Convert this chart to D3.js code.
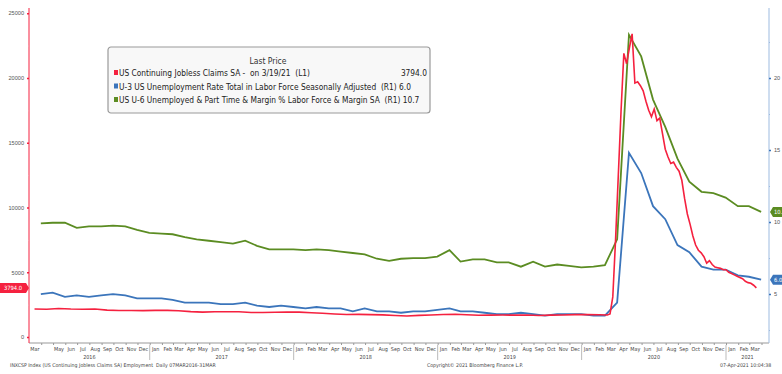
<!DOCTYPE html>
<html>
<head>
<meta charset="utf-8">
<script src="https://cdn.jsdelivr.net/npm/d3@7"></script>
<style>
  body { margin: 0; background: #fff; }
  svg { display: block; font-family: "Liberation Sans Narrow", "DejaVu Sans Condensed", sans-serif; }
  .pre { white-space: pre; }
</style>
</head>
<body>
<script>
// ---- data ----
// continuing jobless claims, thousands, monthly Mar 2016 - Feb 2020 (mid-month)
var claimsMonthly = [2170,2150,2200,2160,2150,2160,2080,2050,2050,2040,
  2060,2060,2030,1960,1920,1950,1950,1950,1900,1890,1910,1930,
  1920,1880,1840,1780,1740,1750,1730,1710,1660,1630,1670,1700,
  1740,1760,1720,1680,1690,1700,1690,1700,1660,1690,1700,1730,
  1730,1720];
// weekly (Fridays) from 6 Mar 2020 to 19 Mar 2021
var claimsWeekly = [1700,1780,3100,7500,12500,17500,21900,21100,22300,23400,
  19600,19700,19400,19000,18200,17500,17000,17600,16700,16900,
  15700,14500,13900,13400,13500,13100,12800,12100,10700,9500,
  8700,7800,7100,6700,6500,6200,5700,5900,5600,5400,
  5350,5300,5200,5200,5000,4900,4800,4700,4600,4500,
  4300,4200,4150,4000,3794];
// U-3 unemployment rate, monthly Mar 2016 - Mar 2021
var u3 = [5.0,5.1,4.8,4.9,4.8,4.9,5.0,4.9,4.7,4.7,
  4.7,4.6,4.4,4.4,4.4,4.3,4.3,4.4,4.2,4.1,4.2,4.1,
  4.0,4.1,4.0,4.0,3.8,4.0,3.8,3.8,3.7,3.8,3.8,3.9,
  4.0,3.8,3.8,3.7,3.6,3.6,3.7,3.6,3.5,3.6,3.6,3.6,
  3.5,3.5,4.4,14.8,13.4,11.1,10.2,8.4,7.9,6.9,6.7,6.7,
  6.3,6.2,6.0];
// U-6, monthly Mar 2016 - Mar 2021
var u6 = [9.9,9.95,9.95,9.6,9.7,9.7,9.75,9.7,9.45,9.25,
  9.2,9.15,8.95,8.8,8.7,8.6,8.5,8.7,8.35,8.1,8.1,8.1,
  8.05,8.1,8.05,7.95,7.85,7.75,7.45,7.3,7.45,7.5,7.5,7.6,
  8.05,7.25,7.4,7.4,7.2,7.2,6.9,7.25,6.9,7.05,6.95,6.85,
  6.9,7.0,8.8,23.0,21.5,18.5,16.6,14.4,12.8,12.1,12.0,11.7,
  11.1,11.1,10.7];

var leftTicks = [0, 5000, 10000, 15000, 20000, 25000];
var rightTicks = [5, 10, 15, 20];
var legendRows = [
  {name: "US Continuing Jobless Claims SA -  on 3/19/21  (L1)", last: "3794.0", color: "#f5213f"},
  {name: "U-3 US Unemployment Rate Total in Labor Force Seasonally Adjusted  (R1) 6.0", last: "", color: "#3b75bb"},
  {name: "US U-6 Unemployed & Part Time & Margin % Labor Force & Margin SA  (R1) 10.7", last: "", color: "#5b8c22"}
];

var w = 782, h = 374;
var pLeft = 29, pRight = 769, pTop = 8, pBottom = 343;
var red = "#f5213f", blue = "#3b75bb", green = "#5b8c22";

// dates
var monthEnds = d3.utcMonth.range(new Date(Date.UTC(2016, 2, 1)), new Date(Date.UTC(2021, 3, 1)))
  .map(function(d) { return d3.utcDay.offset(d3.utcMonth.offset(d, 1), -1); });
var claimsData = claimsMonthly.map(function(v, i) {
  return {date: new Date(Date.UTC(2016, 2 + i, 15)), v: v};
}).concat(claimsWeekly.map(function(v, i) {
  return {date: d3.utcDay.offset(new Date(Date.UTC(2020, 2, 6)), 7 * i), v: v};
}));
var u3Data = u3.map(function(v, i) { return {date: monthEnds[i], v: v}; });
var u6Data = u6.map(function(v, i) { return {date: monthEnds[i], v: v}; });

// scales
var xScale = d3.scaleUtc()
  .domain([new Date(Date.UTC(2016, 2, 1)), new Date(Date.UTC(2021, 3, 20))])
  .range([pLeft, pRight]);
var yLeft = d3.scaleLinear().domain([-460, 25400]).range([pBottom, pTop]);
var yRight = d3.scaleLinear().domain([1.6, 24.86]).range([pBottom, pTop]);

var svg = d3.select("body").append("svg")
  .attr("width", w)
  .attr("height", h);

// bottom axis line + month ticks
var monthStarts = d3.utcMonth.range(new Date(Date.UTC(2016, 3, 1)), new Date(Date.UTC(2021, 3, 2)));
var xAxis = d3.axisBottom(xScale)
  .tickValues(monthStarts)
  .tickSize(2)
  .tickFormat("");
var gx = svg.append("g")
  .attr("transform", "translate(0," + pBottom + ")")
  .call(xAxis);
gx.select(".domain").attr("stroke", "#999").attr("d", "M" + pLeft + ",0H" + pRight);
gx.selectAll(".tick line").attr("stroke", "#999");

// month labels centred on month
var monthMids = d3.utcMonth.range(new Date(Date.UTC(2016, 2, 1)), new Date(Date.UTC(2021, 3, 1)))
  .filter(function(d) { return !(d.getUTCFullYear() == 2016 && d.getUTCMonth() == 3); })
  .map(function(d) { return d3.utcDay.offset(d, 15); });
svg.append("g").selectAll("text")
  .data(monthMids)
  .enter().append("text")
  .attr("x", function(d) { return xScale(d); })
  .attr("y", 351)
  .attr("text-anchor", "middle")
  .attr("font-size", 5.4)
  .attr("fill", "#444")
  .text(d3.utcFormat("%b"));

// year labels + separators
var years = [2016, 2017, 2018, 2019, 2020, 2021];
svg.append("g").selectAll("text")
  .data(years)
  .enter().append("text")
  .attr("x", function(y) {
    var a = Math.max(xScale(new Date(Date.UTC(y, 0, 1))), pLeft);
    var b = Math.min(xScale(new Date(Date.UTC(y + 1, 0, 1))), pRight);
    return (a + b) / 2;
  })
  .attr("y", 359)
  .attr("text-anchor", "middle")
  .attr("font-size", 5.4)
  .attr("fill", "#444")
  .text(function(y) { return y; });
svg.append("g").selectAll("line")
  .data(years.slice(1))
  .enter().append("line")
  .attr("x1", function(y) { return xScale(new Date(Date.UTC(y, 0, 1))); })
  .attr("x2", function(y) { return xScale(new Date(Date.UTC(y, 0, 1))); })
  .attr("y1", pBottom + 2)
  .attr("y2", 360)
  .attr("stroke", "#bbb")
  .attr("stroke-width", 1);

// left axis (red)
var gl = svg.append("g")
  .attr("transform", "translate(" + pLeft + ",0)")
  .call(d3.axisLeft(yLeft).tickValues(leftTicks).tickSize(2).tickFormat(d3.format("d")));
gl.select(".domain").attr("stroke", red).attr("d", "M0," + pTop + "V" + pBottom);
gl.selectAll(".tick line").attr("stroke", red).attr("stroke-width", 1.5);
gl.selectAll(".tick text").attr("fill", "#555").attr("font-size", 5.6).attr("font-family", null);
svg.append("g")
  .attr("transform", "translate(" + pLeft + ",0)")
  .call(d3.axisLeft(yLeft).tickValues(d3.range(2500, 25000, 5000)).tickSize(1).tickFormat(""))
  .call(function(g) { g.select(".domain").remove(); g.selectAll("line").attr("stroke", "#f7a0ad"); });

// right axis (blue)
var gr = svg.append("g")
  .attr("transform", "translate(" + pRight + ",0)")
  .call(d3.axisRight(yRight).tickValues(rightTicks).tickSize(2).tickFormat(d3.format("d")));
gr.select(".domain").attr("stroke", "#9dbbe0").attr("d", "M0," + pTop + "V" + pBottom);
gr.selectAll(".tick line").attr("stroke", blue).attr("stroke-width", 1.5);
gr.selectAll(".tick text").attr("fill", "#555").attr("font-size", 5.6).attr("font-family", null);
svg.append("g")
  .attr("transform", "translate(" + pRight + ",0)")
  .call(d3.axisRight(yRight).tickValues([2.5, 7.5, 12.5, 17.5, 22.5]).tickSize(1).tickFormat(""))
  .call(function(g) { g.select(".domain").remove(); g.selectAll("line").attr("stroke", "#9dbbe0"); });

// lines
var lineL = d3.line().x(function(d) { return xScale(d.date); }).y(function(d) { return yLeft(d.v); });
var lineR = d3.line().x(function(d) { return xScale(d.date); }).y(function(d) { return yRight(d.v); });
svg.append("path").datum(u6Data)
  .attr("fill", "none").attr("stroke", green).attr("stroke-width", 1.8).attr("d", lineR);
svg.append("path").datum(u3Data)
  .attr("fill", "none").attr("stroke", blue).attr("stroke-width", 1.8).attr("d", lineR);
svg.append("path").datum(claimsData)
  .attr("fill", "none").attr("stroke", red).attr("stroke-width", 1.6).attr("d", lineL);

// last value badges
var lastClaims = claimsData[claimsData.length - 1].v;
var bl = svg.append("g").attr("transform", "translate(0," + yLeft(lastClaims) + ")");
bl.append("path").attr("d", "M0,-5H26L29,0L26,5H0Z").attr("fill", red);
bl.append("text").attr("x", 13).attr("y", 2.1).attr("text-anchor", "middle")
  .attr("font-size", 5.8).attr("fill", "#fff").text(d3.format(".1f")(lastClaims));

[[u6, green], [u3, blue]].forEach(function(s) {
  var v = s[0][s[0].length - 1];
  var g = svg.append("g").attr("transform", "translate(" + (pRight + 1) + "," + yRight(v) + ")");
  g.append("path").attr("d", "M0,0L3,-5H14V5H3Z").attr("fill", s[1]);
  g.append("text").attr("x", 4).attr("y", 2.1)
    .attr("font-size", 5.8).attr("fill", "#fff").text(d3.format(".1f")(v));
});

// legend
var lg = svg.append("g").attr("transform", "translate(108,47)");
lg.append("rect").attr("width", 322).attr("height", 66).attr("rx", 3)
  .attr("fill", "#f8f8f8").attr("stroke", "#9a9a9a").attr("stroke-width", 1.2);
lg.append("text").attr("x", 160).attr("y", 17).attr("text-anchor", "middle")
  .attr("font-size", 8.5).attr("fill", "#333").text("Last Price");
var rows = lg.selectAll(".row").data(legendRows).enter().append("g")
  .attr("transform", function(d, i) { return "translate(0," + (29 + i * 13.5) + ")"; });
rows.append("rect").attr("x", 6).attr("y", -6).attr("width", 4).attr("height", 5)
  .attr("fill", function(d) { return d.color; });
rows.append("text").attr("class", "pre").attr("x", 11).attr("y", 0)
  .attr("font-size", 8.3).attr("fill", "#222").text(function(d) { return d.name; });
rows.append("text").attr("x", 319).attr("y", 0).attr("text-anchor", "end")
  .attr("font-size", 8.3).attr("fill", "#222").text(function(d) { return d.last; });

// footer
svg.append("text").attr("class", "pre").attr("x", 10).attr("y", 367)
  .attr("font-size", 5.2).attr("fill", "#444")
  .text("INXCSP Index (US Continuing Jobless Claims SA) Employment  Daily 07MAR2016-31MAR");
svg.append("text").attr("x", 427).attr("y", 367)
  .attr("font-size", 5.2).attr("fill", "#444")
  .text("Copyright\u00a9 2021 Bloomberg Finance L.P.");
svg.append("text").attr("x", 720).attr("y", 367)
  .attr("font-size", 5.2).attr("fill", "#444")
  .text("07-Apr-2021 10:04:38");
</script>
</body>
</html>
